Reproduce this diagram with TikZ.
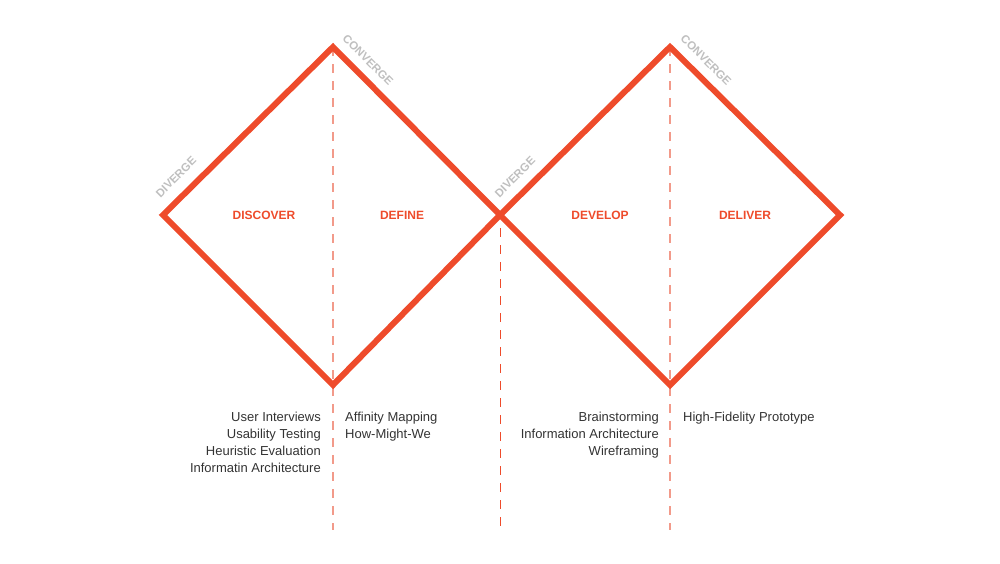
\documentclass[tikz,border=0pt]{standalone}
\usepackage{fontspec}
\setmainfont{Liberation Sans}
\begin{document}
\begin{tikzpicture}[x=1pt,y=-1pt,
  dia/.style={line width=6pt, line join=miter},
  dsh/.style={line width=1.2pt, dash pattern=on 9pt off 8pt},
  phase/.style={font=\fontsize{12}{14}\selectfont\bfseries},
  side/.style={font=\fontsize{11.5}{13}\selectfont\bfseries, text=black!25, inner sep=1pt},
  items/.style={font=\fontsize{13}{17}\selectfont, text=black!80, align=left, inner sep=0pt}]
\useasboundingbox (0,0) rectangle (1000,563);
\definecolor{od}{HTML}{EE4B2B}
\definecolor{lt}{HTML}{F29A8A}
\coordinate (L1) at (163,215); \coordinate (T1) at (333,47);
\coordinate (M) at (500,215); \coordinate (B1) at (333,385);
\coordinate (T2) at (670,47); \coordinate (R2) at (840,215); \coordinate (B2) at (670,385);
\coordinate (e1) at (333,530); \coordinate (e2) at (500,530); \coordinate (e3) at (670,530);
\coordinate (s2) at (500,228);
\draw[dsh, draw=lt] (T1) -- (e1);
\draw[dsh, draw=lt] (T2) -- (e3);
\draw[dsh, draw=od, line width=1pt] (s2) -- (e2);
\draw[dia, draw=od] (L1) -- (T1) -- (M) -- (B1) -- cycle;
\draw[dia, draw=od] (M) -- (T2) -- (R2) -- (B2) -- cycle;
\node[phase, text=od] (n1) at (264,215) {DISCOVER};
\node[phase, text=od] (n2) at (402,215) {DEFINE};
\node[phase, text=od] (n3) at (600,215) {DEVELOP};
\node[phase, text=od] (n4) at (745,215) {DELIVER};
\node[side, rotate=45] (d1) at (176,177) {DIVERGE};
\node[side, rotate=45] (d2) at (515,177) {DIVERGE};
\node[side, rotate=-45] (c1) at (368,60) {CONVERGE};
\node[side, rotate=-45] (c2) at (706,60) {CONVERGE};
\node[items, align=right, anchor=north east] (t1) at (321,412) {User Interviews\\Usability Testing\\Heuristic Evaluation\\Informatin Architecture};
\node[items, anchor=north west] (t2) at (345,412) {Affinity Mapping\\How-Might-We};
\node[items, align=right, anchor=north east] (t3) at (659,412) {Brainstorming\\Information Architecture\\Wireframing};
\node[items, anchor=north west] (t4) at (683,412) {High-Fidelity Prototype};
\end{tikzpicture}
\end{document}
